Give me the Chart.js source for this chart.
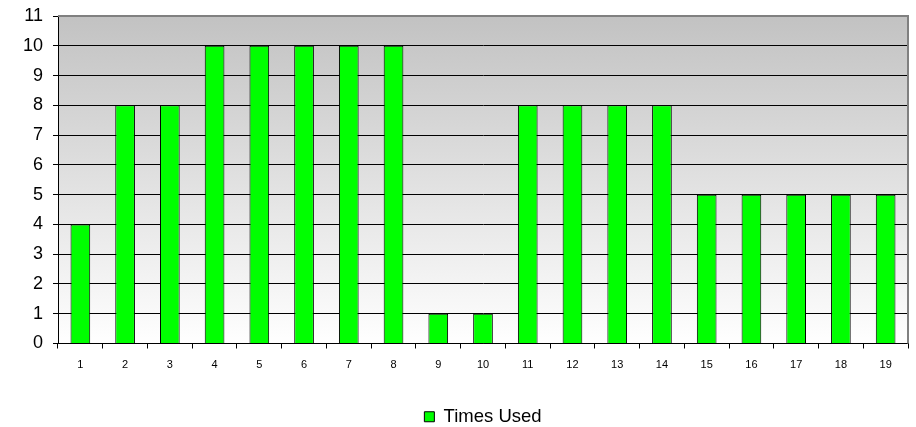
<!DOCTYPE html>
<html>
<head>
<meta charset="utf-8">
<script src="https://cdn.jsdelivr.net/npm/chart.js@4/dist/chart.umd.min.js"></script>
<style>
  html, body { margin: 0; padding: 0; background: #ffffff; }
  #wrap { width: 916px; height: 427px; }
</style>
</head>
<body>
<div id="wrap"><canvas id="c" width="916" height="427"></canvas></div>
<script>
const categories = ['1','2','3','4','5','6','7','8','9','10','11','12','13','14','15','16','17','18','19'];
const timesUsed = [4, 8, 8, 10, 10, 10, 10, 10, 1, 1, 8, 8, 8, 8, 5, 5, 5, 5, 5];
const seriesName = 'Times Used';

// Plot background: grey-to-white vertical gradient with a grey frame on top and right
const plotBackground = {
  id: 'plotBackground',
  afterLayout(chart) {
    // center the legend under the plot area rather than the whole canvas
    const l = chart.legend;
    if (l) {
      l.left = chart.chartArea.left;
      l.right = chart.chartArea.right;
      l.width = l.right - l.left;
    }
  },
  beforeDraw(chart) {
    const { ctx, chartArea: a } = chart;
    const g = ctx.createLinearGradient(0, a.top, 0, a.bottom);
    g.addColorStop(0, '#c2c2c2');
    g.addColorStop(1, '#ffffff');
    ctx.save();
    ctx.fillStyle = g;
    ctx.fillRect(a.left, a.top, a.right - a.left, a.bottom - a.top);
    ctx.restore();
  },
  afterDatasetsDraw(chart) {
    const { ctx, chartArea: a } = chart;
    ctx.save();
    ctx.strokeStyle = '#808080';
    ctx.lineWidth = 2;
    ctx.beginPath();
    ctx.moveTo(a.left, a.top);
    ctx.lineTo(a.right, a.top);
    ctx.lineTo(a.right, a.bottom);
    ctx.stroke();
    ctx.restore();
  }
};

new Chart(document.getElementById('c'), {
  type: 'bar',
  data: {
    labels: categories,
    datasets: [{
      label: seriesName,
      data: timesUsed,
      backgroundColor: '#00ff00',
      borderColor: '#000000',
      borderWidth: 1,
      barPercentage: 0.44,
      categoryPercentage: 1.0
    }]
  },
  options: {
    responsive: false,
    animation: false,
    layout: { padding: { top: 16, right: 8, left: 0, bottom: -9 } },
    plugins: {
      legend: {
        position: 'bottom',
        labels: {
          color: '#000000',
          font: { family: 'Liberation Sans, Arial, sans-serif', size: 18.5 },
          boxWidth: 10,
          boxHeight: 10,
          padding: 0
        }
      },
      tooltip: { enabled: false }
    },
    scales: {
      x: {
        grid: {
          display: true,
          offset: true,
          drawOnChartArea: false,
          color: '#000000',
          tickLength: 5
        },
        border: { display: true, color: '#000000', width: 1 },
        ticks: {
          color: '#000000',
          font: { family: 'Liberation Sans, Arial, sans-serif', size: 11 },
          padding: 10,
          maxRotation: 0,
          autoSkip: false
        },
        afterFit(scale) { scale.height = 64; }
      },
      y: {
        min: 0,
        max: 11,
        ticks: {
          stepSize: 1,
          color: '#000000',
          font: { family: 'Liberation Sans, Arial, sans-serif', size: 18 },
          padding: 10
        },
        grid: {
          color: '#000000',
          lineWidth: 1,
          tickLength: 5
        },
        border: { display: true, color: '#000000', width: 1 },
        afterFit(scale) {
          scale.width = 58;
          scale.paddingTop = 0;
          scale.paddingBottom = 0;
        }
      }
    }
  },
  plugins: [plotBackground]
});
</script>
</body>
</html>
